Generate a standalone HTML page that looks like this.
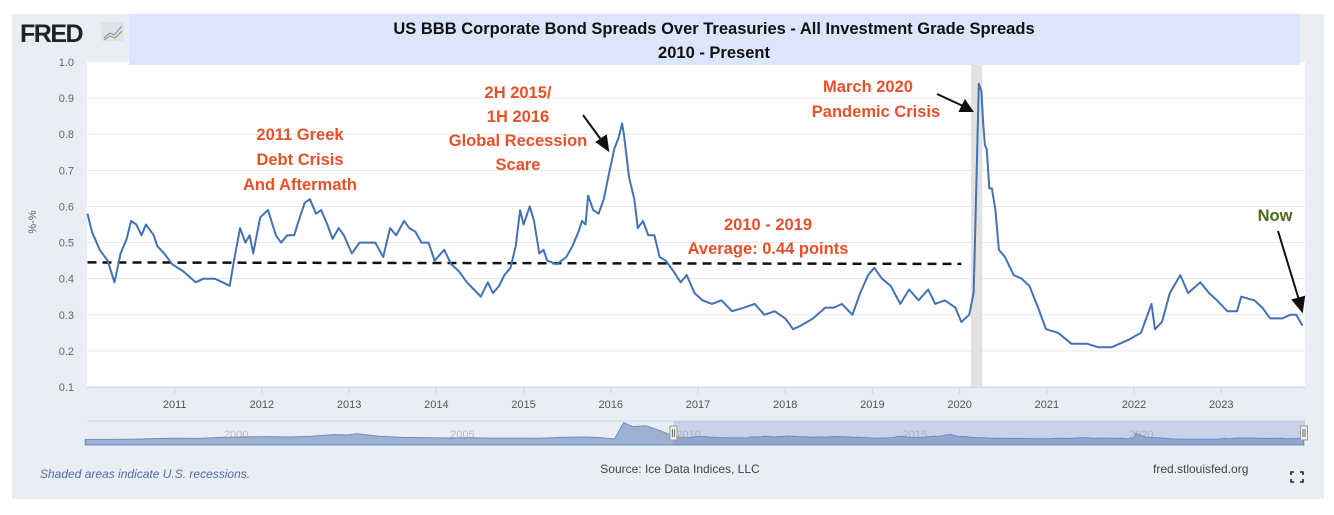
<!DOCTYPE html>
<html><head><meta charset="utf-8">
<style>
html,body{margin:0;padding:0;background:#fff;}
body{width:1334px;height:510px;overflow:hidden;font-family:"Liberation Sans",sans-serif;}
svg text{font-family:"Liberation Sans",sans-serif;}
</style></head>
<body>
<svg id="chart" width="1334" height="510" viewBox="0 0 1334 510" xmlns="http://www.w3.org/2000/svg">
<rect x="12" y="14" width="1312" height="485" fill="#e9edf4"/>
<rect x="87" y="62" width="1218" height="325" fill="#fff"/>
<rect x="129" y="14" width="1171" height="51" fill="#dbe5fb"/>
<text x="20" y="42" font-size="25" font-weight="bold" fill="#222" letter-spacing="-1.5">FRED</text>
<g><rect x="101" y="22" width="23" height="19" fill="#dfe3e8"/><polyline points="104,38 110,33 114,35 122,26" fill="none" stroke="#7a9cc8" stroke-width="1.2"/><polyline points="104,40 110,36 115,38 122,31" fill="none" stroke="#8aae5a" stroke-width="1.2"/></g>
<text x="714" y="34" text-anchor="middle" font-size="16.5" font-weight="bold" fill="#111">US BBB Corporate Bond Spreads Over Treasuries - All Investment Grade Spreads</text>
<text x="714" y="58" text-anchor="middle" font-size="16.5" font-weight="bold" fill="#111">2010 - Present</text>
<g id="grid"></g>
<g id="main"></g>
<g id="nav"></g>
<text transform="translate(36,222) rotate(-90)" text-anchor="middle" font-size="11" fill="#666">%-%</text>
<g font-weight="bold" font-size="16.5" fill="#e8502a" text-anchor="middle">
<text x="300" y="140">2011 Greek</text>
<text x="300" y="165">Debt Crisis</text>
<text x="300" y="190">And Aftermath</text>
<text x="518" y="98">2H 2015/</text>
<text x="518" y="122">1H 2016</text>
<text x="518" y="146">Global Recession</text>
<text x="518" y="170">Scare</text>
<text x="868" y="92">March 2020</text>
<text x="876" y="117">Pandemic Crisis</text>
<text x="768" y="230">2010 - 2019</text>
<text x="768" y="254">Average: 0.44 points</text>
<text x="1275" y="221" fill="#4d6a1f">Now</text>
</g>
<g stroke="#111" stroke-width="2" fill="#111">
<line x1="583" y1="115" x2="602" y2="141"/><polygon points="608,150 597,142 606,136"/>
<line x1="937" y1="94" x2="963" y2="106"/><polygon points="972,111 960,111 965,101"/>
<line x1="1278" y1="231" x2="1299" y2="300"/><polygon points="1302,311 1293,300 1304,297"/>
</g>
<text x="40" y="478" font-size="12" font-style="italic" fill="#4a6fa5">Shaded areas indicate U.S. recessions.</text>
<text x="680" y="473" text-anchor="middle" font-size="12" fill="#444">Source: Ice Data Indices, LLC</text>
<text x="1153" y="473" font-size="12" fill="#444">fred.stlouisfed.org</text>
<g stroke="#222" stroke-width="1.6" fill="none">
<polyline points="1291,475 1291,472 1294,472"/><polyline points="1300,472 1303,472 1303,475"/>
<polyline points="1291,479 1291,482 1294,482"/><polyline points="1300,482 1303,482 1303,479"/>
</g>
</svg>
<script>
const years = [2010.0,2010.05,2010.14,2010.23,2010.31,2010.38,2010.45,2010.5,2010.56,2010.62,2010.67,2010.76,2010.8,2010.88,2010.97,2011.1,2011.24,2011.33,2011.46,2011.55,2011.63,2011.68,2011.75,2011.81,2011.86,2011.9,2011.98,2012.07,2012.16,2012.22,2012.29,2012.37,2012.42,2012.49,2012.55,2012.62,2012.68,2012.75,2012.81,2012.88,2012.94,2013.03,2013.12,2013.21,2013.3,2013.39,2013.47,2013.54,2013.63,2013.69,2013.76,2013.83,2013.91,2013.98,2014.09,2014.17,2014.26,2014.35,2014.43,2014.51,2014.59,2014.65,2014.72,2014.78,2014.85,2014.91,2014.96,2015.0,2015.07,2015.12,2015.18,2015.23,2015.27,2015.38,2015.49,2015.56,2015.63,2015.67,2015.71,2015.74,2015.8,2015.86,2015.92,2015.97,2016.04,2016.09,2016.13,2016.15,2016.21,2016.27,2016.31,2016.37,2016.43,2016.5,2016.56,2016.63,2016.72,2016.8,2016.87,2016.96,2017.05,2017.16,2017.27,2017.39,2017.53,2017.65,2017.76,2017.88,2018.0,2018.09,2018.18,2018.32,2018.46,2018.56,2018.65,2018.77,2018.86,2018.95,2019.02,2019.11,2019.21,2019.32,2019.42,2019.53,2019.64,2019.72,2019.83,2019.95,2020.02,2020.11,2020.16,2020.18,2020.22,2020.25,2020.27,2020.29,2020.31,2020.34,2020.37,2020.41,2020.45,2020.52,2020.62,2020.71,2020.8,2020.9,2020.99,2021.13,2021.28,2021.46,2021.59,2021.74,2021.93,2022.08,2022.2,2022.24,2022.32,2022.41,2022.53,2022.62,2022.76,2022.86,2022.95,2023.07,2023.18,2023.23,2023.38,2023.47,2023.56,2023.7,2023.79,2023.86,2023.93];
const spreads = [0.58,0.53,0.48,0.45,0.39,0.47,0.51,0.56,0.55,0.52,0.55,0.52,0.49,0.47,0.44,0.42,0.39,0.40,0.40,0.39,0.38,0.45,0.54,0.50,0.52,0.47,0.57,0.59,0.52,0.50,0.52,0.52,0.56,0.61,0.62,0.58,0.59,0.55,0.51,0.54,0.52,0.47,0.50,0.50,0.50,0.46,0.54,0.52,0.56,0.54,0.53,0.50,0.50,0.45,0.48,0.44,0.42,0.39,0.37,0.35,0.39,0.36,0.38,0.41,0.43,0.49,0.59,0.55,0.60,0.56,0.47,0.48,0.45,0.44,0.46,0.49,0.53,0.56,0.55,0.63,0.59,0.58,0.62,0.68,0.76,0.79,0.83,0.80,0.68,0.62,0.54,0.56,0.52,0.52,0.46,0.45,0.42,0.39,0.41,0.36,0.34,0.33,0.34,0.31,0.32,0.33,0.30,0.31,0.29,0.26,0.27,0.29,0.32,0.32,0.33,0.30,0.36,0.41,0.43,0.40,0.38,0.33,0.37,0.34,0.37,0.33,0.34,0.32,0.28,0.30,0.36,0.54,0.94,0.92,0.83,0.77,0.76,0.65,0.65,0.59,0.48,0.46,0.41,0.40,0.38,0.32,0.26,0.25,0.22,0.22,0.21,0.21,0.23,0.25,0.33,0.26,0.28,0.36,0.41,0.36,0.39,0.36,0.34,0.31,0.31,0.35,0.34,0.32,0.29,0.29,0.30,0.30,0.27];
const yTicks = [0.1,0.2,0.3,0.4,0.5,0.6,0.7,0.8,0.9,1.0];
const xTickYears = [2011,2012,2013,2014,2015,2016,2017,2018,2019,2020,2021,2022,2023];
const averageValue = [0.445];
const recession = [2020.13,2020.26];
const navYears = [1997,1997.5,1998,1998.5,1999,1999.5,2000,2000.5,2001,2001.5,2002,2002.5,2002.8,2003,2003.5,2004,2004.5,2005,2005.5,2006,2006.5,2007,2007.5,2008,2008.3,2008.7,2008.9,2009.1,2009.4,2009.7,2010];
const navValues = [0.2,0.2,0.22,0.3,0.35,0.33,0.45,0.5,0.55,0.5,0.6,0.8,0.75,0.9,0.6,0.45,0.42,0.38,0.4,0.36,0.36,0.35,0.45,0.5,0.45,0.25,2.3,1.8,1.9,1.3,0.6];

const NS='http://www.w3.org/2000/svg';
const X0=87.5,X1=1305,Y0=387,Y1=62;
const xs=y=>X0+(y-2010)*(X1-X0)/(2023.96-2010);
const ys=v=>Y0-(v-0.1)*(Y0-Y1)/0.9;
const nx=y=>87+(y-1997.04)*(1305-87)/(2023.96-1997.04);
const ny=v=>445-(4+v*8);
function mk(tag,attrs,parent){const e=document.createElementNS(NS,tag);for(const k in attrs)e.setAttribute(k,attrs[k]);parent.appendChild(e);return e;}
const grid=document.getElementById('grid'),main=document.getElementById('main'),nav=document.getElementById('nav');

yTicks.forEach(v=>{
  if(v<1.0){const l=mk('line',{x1:87,x2:1305,y1:ys(v),y2:ys(v),stroke:'#e6e6e6','stroke-width':1},grid);
  
  }
  const t=mk('text',{x:74,y:ys(v)+4,'text-anchor':'end','font-size':11,fill:'#666'},grid);
  t.textContent=v.toFixed(1);
  
  
});
mk('line',{x1:87,x2:1305,y1:387.5,y2:387.5,stroke:'#ccd6eb','stroke-width':1},grid);
xTickYears.forEach(y=>{
  const l=mk('line',{x1:xs(y),x2:xs(y),y1:388,y2:394,stroke:'#ccd6eb'},grid);
  
  
  const t=mk('text',{x:xs(y),y:408,'text-anchor':'middle','font-size':11,fill:'#555'},grid);
  t.textContent=y;
  
  
});
const rec=mk('rect',{x:xs(recession[0]),y:65,width:xs(recession[1])-xs(recession[0]),height:322,fill:'#e1e1e1'},main);


const avg=mk('line',{x1:xs(2010),x2:xs(2020.02),y1:ys(averageValue[0]),y2:ys(averageValue[0])+1.5,stroke:'#111','stroke-width':2.5,'stroke-dasharray':'9,6'},main);


const line=mk('polyline',{points:years.map((y,i)=>xs(y).toFixed(1)+','+ys(spreads[i]).toFixed(1)).join(' '),fill:'none',stroke:'#4572b4','stroke-width':2,'stroke-linejoin':'round'},main);



const nb=mk('line',{x1:87,x2:1305,y1:421,y2:421,stroke:'#cfd6e2'},nav);


const allY=navYears.concat(years),allV=navValues.concat(spreads);
let d='M'+nx(allY[0])+',445 '+allY.map((y,i)=>'L'+nx(y).toFixed(1)+','+ny(allV[i]).toFixed(1)).join(' ')+' L'+nx(allY[allY.length-1])+',445 Z';
const area=mk('path',{d:d,fill:'#9fb1d3',stroke:'#6f8cc4','stroke-width':1},nav);


const sel=mk('rect',{x:nx(2010),y:421,width:1305-nx(2010),height:24,fill:'rgba(102,133,194,0.25)'},nav);


[[2000,'2000'],[2005,'2005'],[2010,'2010'],[2015,'2015'],[2020,'2020']].forEach(p=>{
  const t=mk('text',{x:nx(p[0])+3,y:438,'font-size':11,fill:'#999','fill-opacity':0.6},nav);
  t.textContent=p[1];
  
  
});
[nx(2010),1304].forEach(x=>{
  const h=mk('rect',{x:x-3.5,y:426,width:7,height:14,fill:'#f2f2f2',stroke:'#999'},nav);
  
  
  mk('line',{x1:x-1,x2:x-1,y1:429,y2:437,stroke:'#666'},nav);
  mk('line',{x1:x+1,x2:x+1,y1:429,y2:437,stroke:'#666'},nav);
});
</script>
</body></html>
